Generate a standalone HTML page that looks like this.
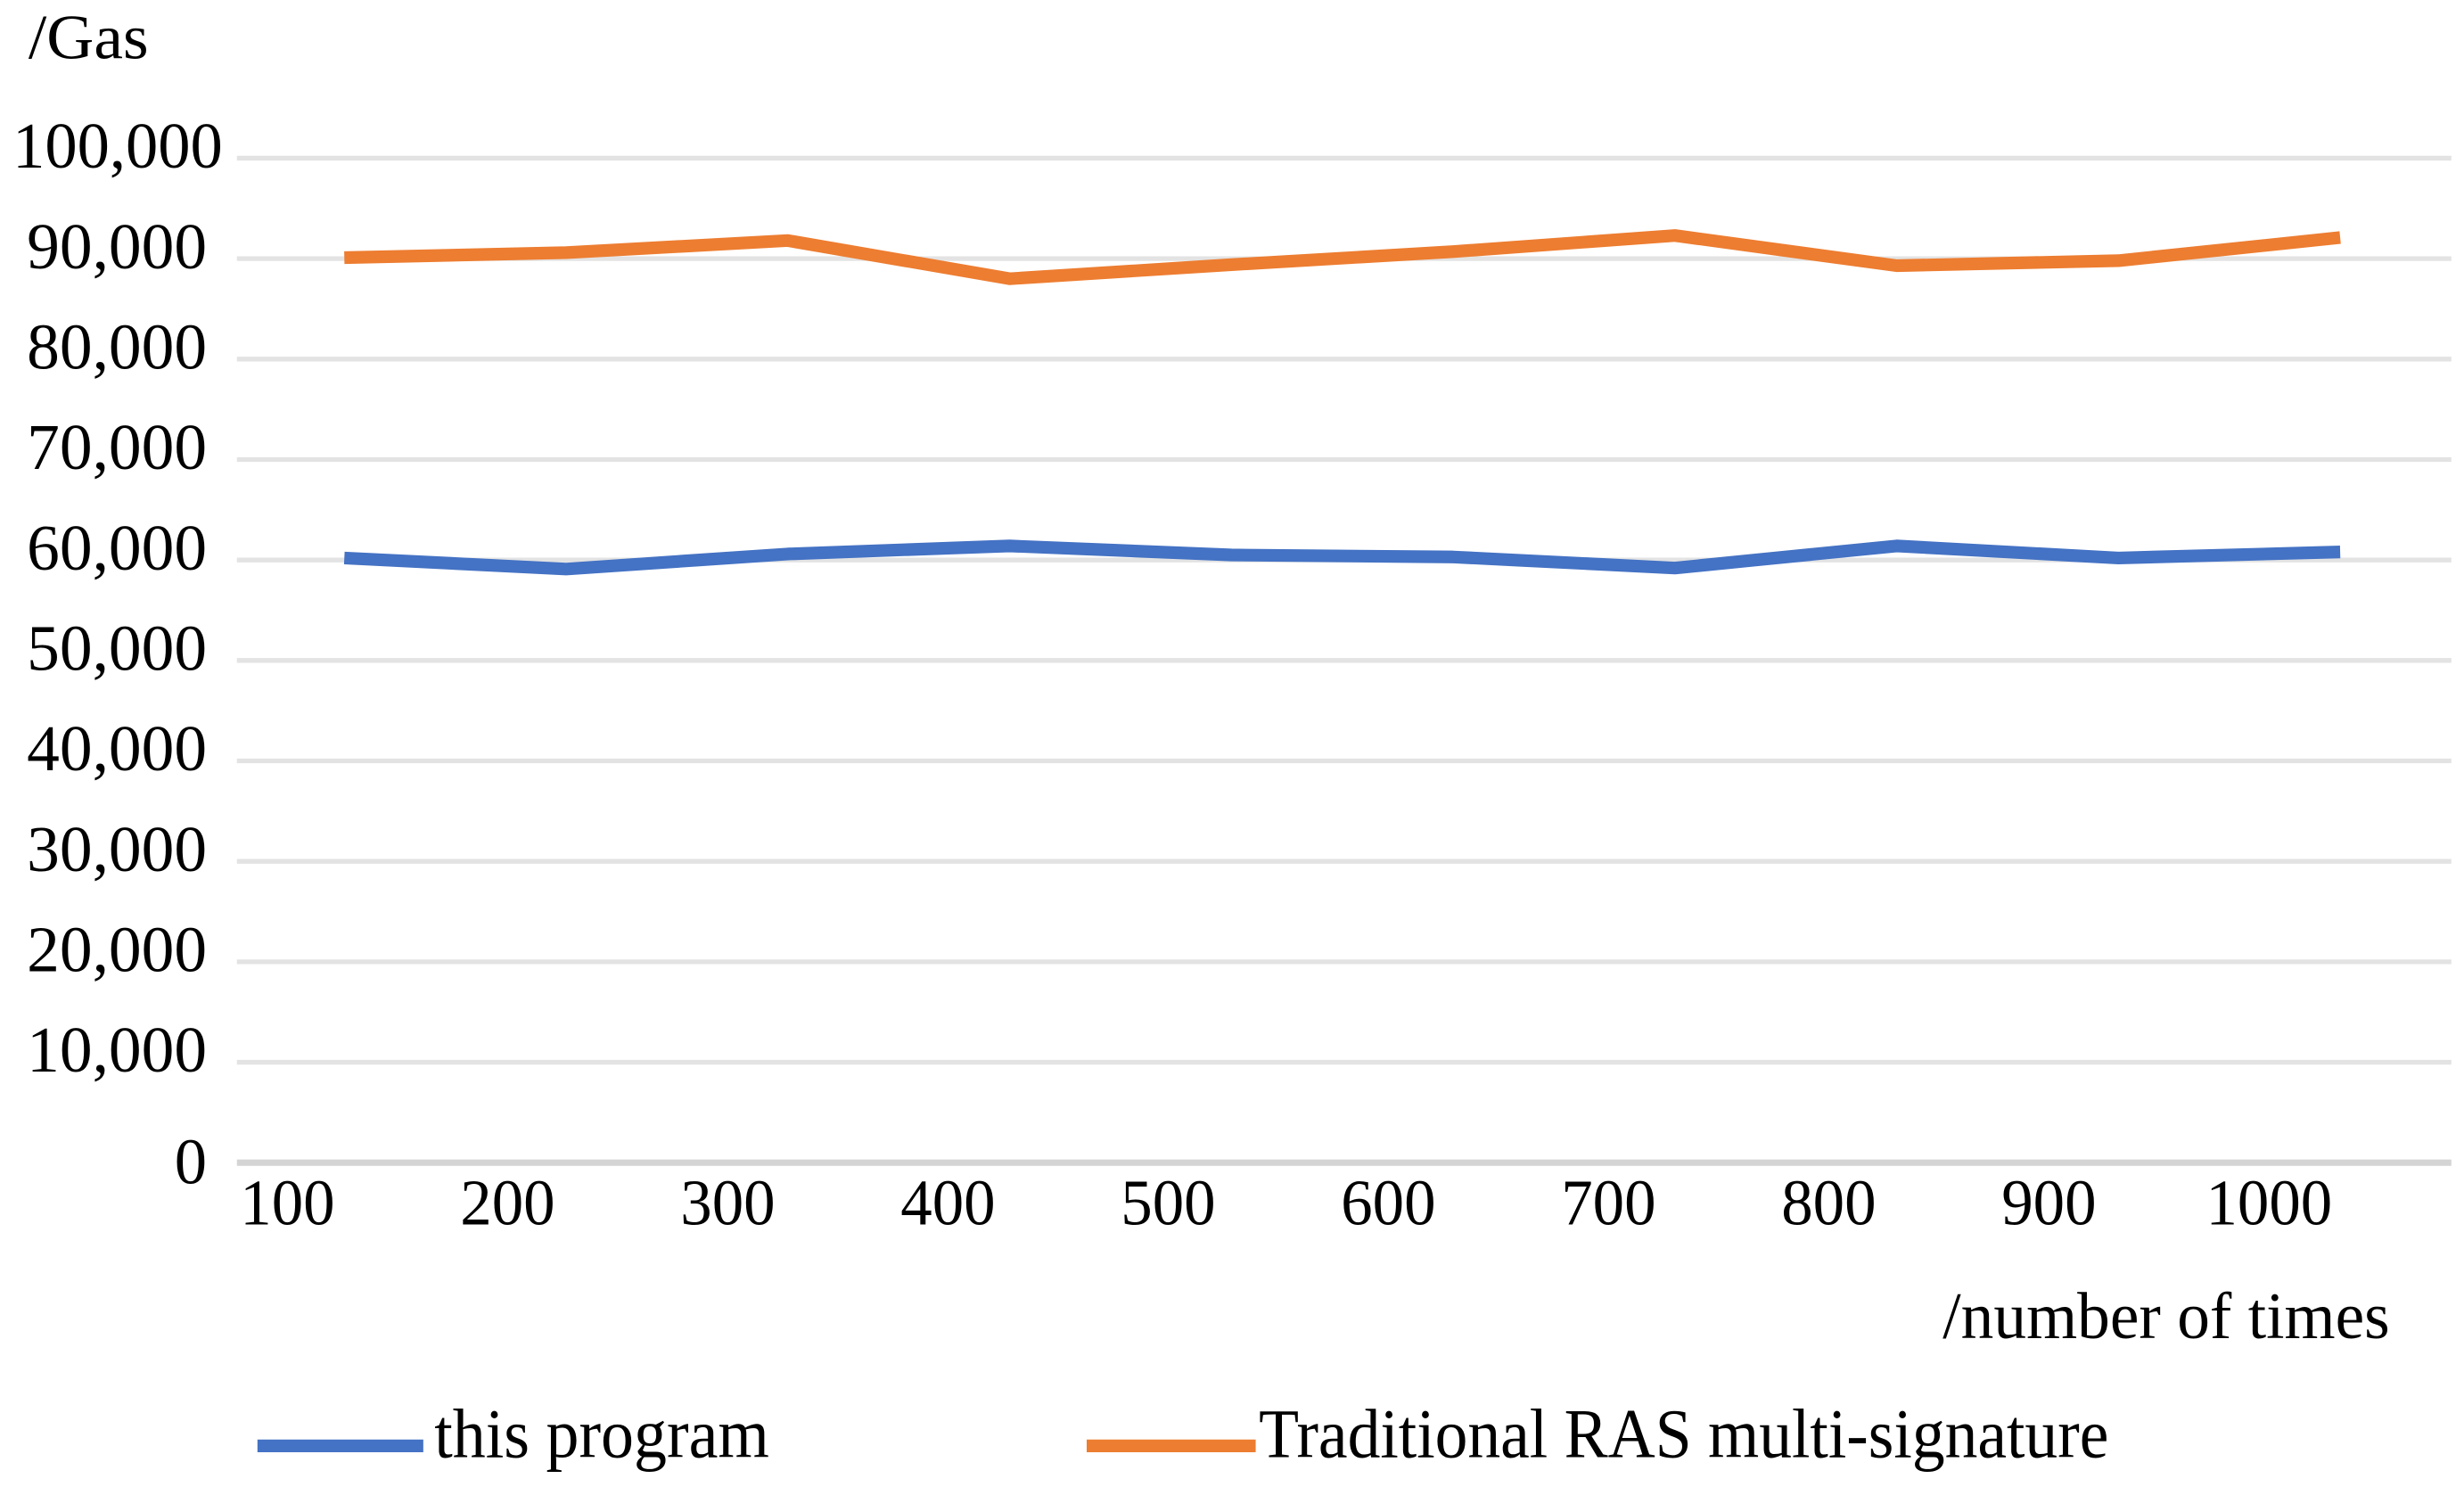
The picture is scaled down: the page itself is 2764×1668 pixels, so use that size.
<!DOCTYPE html>
<html><head><meta charset="utf-8"><style>
html,body{margin:0;padding:0;background:#fff;}
svg{display:block;}
text{font-family:"Liberation Serif",serif;fill:#000;}
</style></head><body>
<svg id="chart" width="2764" height="1668" viewBox="0 0 1560 940" preserveAspectRatio="none" xmlns="http://www.w3.org/2000/svg">
<g id="grid"></g>
<g id="ylabels"></g>
<g id="xlabels"></g>
<g id="series"></g>
<text x="18" y="37" font-size="40" textLength="76" lengthAdjust="spacingAndGlyphs">/Gas</text>
<text x="1230" y="846" font-size="42" textLength="283" lengthAdjust="spacingAndGlyphs">/number of times</text>
<g>
<g>
<line x1="163" y1="914" x2="268" y2="914" stroke="#4472c4" stroke-width="8"/>
<text x="275" y="921" font-size="44" textLength="212" lengthAdjust="spacingAndGlyphs">this program</text>
</g>
<g>
<line x1="688" y1="914" x2="795" y2="914" stroke="#ed7d31" stroke-width="8"/>
<text x="797" y="921" font-size="44" textLength="538" lengthAdjust="spacingAndGlyphs">Traditional RAS multi-signature</text>
</g>
</g>
</svg>
<script>
const categories = ["100","200","300","400","500","600","700","800","900","1000"];
const thisProgram = [60200,59100,60600,61400,60500,60300,59200,61400,60200,60800];
const traditionalRAS = [90100,90600,91800,88000,89400,90700,92300,89300,89800,92100];
const yTicks = [0,10000,20000,30000,40000,50000,60000,70000,80000,90000,100000];
const yTickLabels = ["0","10,000","20,000","30,000","40,000","50,000","60,000","70,000","80,000","90,000","100,000"];

const NS = "http://www.w3.org/2000/svg";
const yScale = v => 735 - v / 100000 * 635;
const xScale = i => 218 + i * 140.4;
const xLabelScale = i => 182 + i * 139.4;

function mk(tag, attrs, parent){
  const e = document.createElementNS(NS, tag);
  for (const k in attrs) e.setAttribute(k, attrs[k]);
  parent.appendChild(e);
  return e;
}
const grid = document.getElementById('grid');
const yl = document.getElementById('ylabels');
yTicks.forEach((t, i) => {
  const y = yScale(t);
  const ln = mk('line', {x1:150, x2:1552, y1:y, y2:y, stroke: t===0 ? '#d4d4d4' : '#e3e3e3', 'stroke-width': t===0 ? 4 : 3}, grid);
  
  
  const lbl = yTickLabels[i];
  const attrs = {x: t===100000 ? 141 : 131, y: t===0 ? y + 13 : y + 6, 'font-size': 41, 'text-anchor':'end'};
  if (lbl.length > 1) { attrs.textLength = lbl.length * 19; attrs.lengthAdjust = 'spacingAndGlyphs'; }
  const tx = mk('text', attrs, yl);
  tx.textContent = lbl;
  
  
});
const xl = document.getElementById('xlabels');
categories.forEach((c, i) => {
  const tx = mk('text', {x: xLabelScale(i), y: 774, 'font-size': 41, 'text-anchor':'middle', textLength: c.length * 20, lengthAdjust:'spacingAndGlyphs'}, xl);
  tx.textContent = c;
  
  
});
const sg = document.getElementById('series');
function drawLine(vals, color, name){
  const pts = vals.map((v, i) => xScale(i) + ',' + yScale(v)).join(' ');
  const pl = mk('polyline', {points: pts, fill:'none', stroke: color, 'stroke-width': 8, 'stroke-linejoin':'round'}, sg);
  
  
}
drawLine(traditionalRAS, '#ed7d31', 'traditional-ras-line');
drawLine(thisProgram, '#4472c4', 'this-program-line');
</script>
</body></html>
